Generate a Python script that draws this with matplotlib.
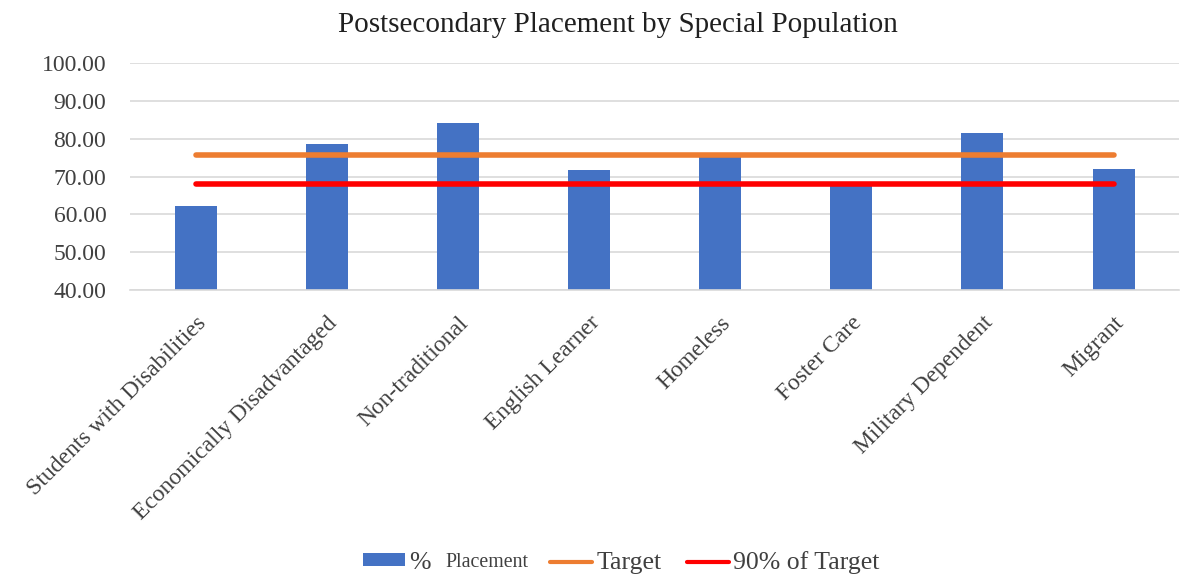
import matplotlib.pyplot as plt
import numpy as np

categories = ['Students with Disabilities', 'Economically Disadvantaged', 'Non-traditional',
              'English Learner', 'Homeless', 'Foster Care', 'Military Dependent', 'Migrant']
placement = [62.1, 78.7, 84.2, 71.8, 75.4, 67.9, 81.4, 72.1]
target = [75.7] * len(categories)
target_90 = [68.1] * len(categories)
y_ticks = [40, 50, 60, 70, 80, 90, 100]

plt.rcParams['font.family'] = ['Liberation Serif', 'DejaVu Serif']

fig = plt.figure(figsize=(11.99, 5.78), dpi=100)
ax = fig.add_axes([0.1084, 0.498, 0.875, 0.393])

x = np.arange(len(categories))
bars = ax.bar(x, placement, width=0.32, color='#4472C4', zorder=2)
l1, = ax.plot(x, target, color='#ED7D31', lw=4, solid_capstyle='round', zorder=3)
l2, = ax.plot(x, target_90, color='#FF0000', lw=4, solid_capstyle='round', zorder=3)

ax.set_xlim(-0.5, len(categories) - 0.5)
ax.set_ylim(40, 100)
ax.set_yticks(y_ticks)
ax.set_yticklabels([f'{v:.2f}' for v in y_ticks], fontsize=17, color='#404040')
ax.set_xticks(x)
ax.set_xticklabels(categories, rotation=45, ha='right', rotation_mode='anchor',
                   fontsize=17, color='#404040')
ax.tick_params(axis='x', length=0, pad=16)
ax.tick_params(axis='y', length=0, pad=17)
ax.grid(axis='y', color='#D9D9D9', lw=1.2, zorder=0)
for s in ['top', 'right', 'left']:
    ax.spines[s].set_visible(False)
ax.spines['bottom'].set_color('#D9D9D9')
ax.spines['bottom'].set_linewidth(1.2)

fig.suptitle('Postsecondary Placement by Special Population', fontsize=21, x=0.515, y=0.98,
             color='#202020')

# legend: "%" big, "Placement" small, then the two lines
leg_y = 0.026
leg_kw = dict(frameon=False, fontsize=18.5, handlelength=1.65, handleheight=0.42,
              handletextpad=0.15, borderpad=0, borderaxespad=0, labelcolor='#404040')
leg1 = fig.legend([bars], ['%'], loc='center left', bbox_to_anchor=(363 / 1199, leg_y), **leg_kw)
fig.text(445 / 1199, leg_y, 'Placement', fontsize=14.3, color='#404040', va='center', ha='left')
leg2 = fig.legend([l1, l2], ['Target', '90% of Target'], loc='center left',
                  bbox_to_anchor=(550 / 1199, leg_y), ncol=2, columnspacing=1.0, **leg_kw)
for leg in (leg1, leg2):
    for line in leg.get_lines():
        line.set_linewidth(3)

fig.savefig('out.png', dpi=100)
